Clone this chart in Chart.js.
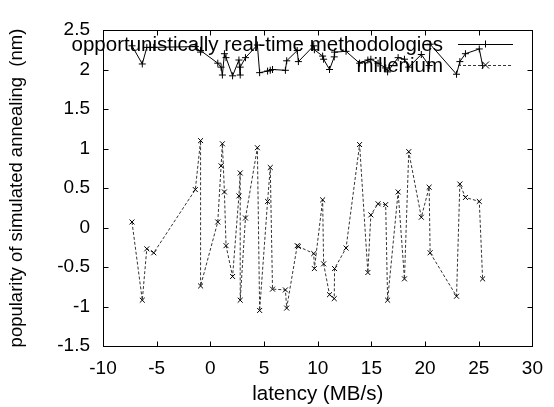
<!DOCTYPE html>
<html lang="en">
<head>
  <meta charset="UTF-8" />
  <title>latency vs popularity</title>
  <script src="https://cdn.jsdelivr.net/npm/chart.js"></script>
  <style>
    body { margin: 0; background: #fff; }
    #wrap { width: 554px; height: 407px; }
  </style>
</head>
<body>
  <div id="wrap"><canvas id="chart" width="554" height="407"></canvas></div>
  <script>
    // latency (MB/s) samples, shared by both series
    const latency = [-7.3, -6.34, -5.92, -5.27, -1.40, -0.91, -0.91, 0.69, 1.0, 1.12, 1.31, 1.46, 2.07, 2.66, 2.78, 2.78, 3.27,
      4.38, 4.59, 5.33, 5.58, 5.79, 6.99, 7.11, 8.09, 8.2, 9.63, 9.69, 10.46, 10.55, 11.1, 11.54, 11.57, 12.64, 13.9,
      14.67, 14.95, 15.62, 16.33, 16.51, 17.49, 18.08, 18.48, 19.65, 20.38, 20.47, 22.93, 23.24, 23.76, 25.05, 25.36];

    const methodologies = [2.30, 2.07, 2.28, 2.28, 2.29, 2.22, 2.24, 2.08, 2.03, 1.93, 2.20, 2.15, 1.92, 2.12, 1.93, 2.03, 2.15,
      2.31, 1.96, 1.98, 1.99, 2.00, 1.99, 2.11, 2.24, 2.10, 2.30, 2.25, 2.17, 2.13, 2.00, 2.16, 2.22, 2.23, 2.08,
      2.12, 2.13, 2.08, 2.02, 1.97, 2.15, 2.13, 2.03, 2.19, 2.05, 2.32, 1.94, 2.10, 2.20, 2.26, 2.05];

    const millenium = [0.07, -0.92, -0.27, -0.32, 0.48, 1.10, -0.74, 0.07, 0.78, 1.06, 0.45, -0.23, -0.62, 0.40, 0.69, -0.92, 0.12,
      1.01, -1.05, 0.33, 0.76, -0.78, -0.79, -1.02, -0.23, -0.24, -0.33, -0.52, 0.35, -0.46, -0.85, -0.90, -0.52, -0.26, 1.05,
      -0.57, 0.16, 0.30, 0.29, -0.92, 0.45, -0.65, 0.96, 0.13, 0.51, -0.32, -0.87, 0.55, 0.38, 0.33, -0.65];

    const xTicks = [-10, -5, 0, 5, 10, 15, 20, 25, 30];
    const yTicks = [-1.5, -1, -0.5, 0, 0.5, 1, 1.5, 2, 2.5];

    const FONT = 'Liberation Sans, Arial, sans-serif';
    Chart.defaults.font.family = FONT;
    Chart.defaults.font.size = 19;
    Chart.defaults.color = '#000';

    const pts = ys => latency.map((x, i) => ({ x, y: ys[i] }));

    // gnuplot style box, inward ticks and legend
    const gnuFrame = {
      id: 'gnuFrame',
      afterDraw(chart) {
        const { ctx, chartArea: a, scales: { x, y } } = chart;
        ctx.save();
        ctx.strokeStyle = '#000';
        ctx.lineWidth = 1;
        ctx.setLineDash([]);
        const seg = (x1, y1, x2, y2) => { ctx.beginPath(); ctx.moveTo(x1, y1); ctx.lineTo(x2, y2); ctx.stroke(); };
        const L = Math.round(a.left) + 0.5, R = Math.round(a.right) + 0.5;
        const T = Math.round(a.top) + 0.5, B = Math.round(a.bottom) + 0.5;
        ctx.strokeRect(L, T, R - L, B - T);
        xTicks.forEach(v => {
          const p = Math.round(x.getPixelForValue(v)) + 0.5;
          seg(p, B, p, B - 5); seg(p, T, p, T + 5);
        });
        yTicks.forEach(v => {
          const p = Math.round(y.getPixelForValue(v)) + 0.5;
          seg(L, p, L + 5, p); seg(R, p, R - 5, p);
        });

        // legend, top right
        ctx.font = '20.5px ' + FONT;
        ctx.textAlign = 'right';
        ctx.textBaseline = 'middle';
        chart.data.datasets.forEach((ds, i) => {
          const ly = 44 + i * 21;
          ctx.fillStyle = '#000';
          ctx.fillText(ds.label, 443, ly + 1);
          ctx.strokeStyle = ds.borderColor;
          ctx.setLineDash(ds.borderDash || []);
          seg(458, ly + 0.5, 513, ly + 0.5);
          ctx.setLineDash([]);
          const cx = 485.5, r = 3.5;
          ctx.strokeStyle = '#000';
          if (ds.pointStyle === 'cross') {
            seg(cx - r, ly + 0.5, cx + r, ly + 0.5); seg(cx, ly - r, cx, ly + r);
          } else {
            seg(cx - r, ly - r, cx + r, ly + r); seg(cx - r, ly + r, cx + r, ly - r);
          }
        });
        ctx.restore();
      }
    };

    new Chart(document.getElementById('chart'), {
      type: 'scatter',
      data: {
        datasets: [
          {
            label: 'opportunistically real-time methodologies',
            data: pts(methodologies),
            showLine: true,
            borderColor: '#000',
            borderWidth: 1,
            pointStyle: 'cross',
            pointRadius: 3.5,
            pointBorderColor: '#000',
            pointBorderWidth: 1
          },
          {
            label: 'millenium',
            data: pts(millenium),
            showLine: true,
            borderColor: '#333',
            borderWidth: 1,
            borderDash: [3, 2],
            pointStyle: 'crossRot',
            pointRadius: 3.5,
            pointBorderColor: '#000',
            pointBorderWidth: 1
          }
        ]
      },
      options: {
        responsive: false,
        animation: false,
        layout: { padding: { left: 0, right: 17, top: 30, bottom: 0 } },
        plugins: { legend: { display: false }, tooltip: { enabled: false } },
        scales: {
          x: {
            type: 'linear',
            min: -10, max: 30,
            afterBuildTicks: s => { s.ticks = xTicks.map(v => ({ value: v })); },
            afterFit: s => { s.height = 61; },
            grid: { display: false, drawTicks: false },
            border: { display: false },
            ticks: { padding: 11, maxRotation: 0, callback: v => String(v) },
            title: { display: true, text: 'latency (MB/s)', font: { size: 20.5 }, padding: { top: 2, bottom: 0 } }
          },
          y: {
            min: -1.5, max: 2.5,
            afterBuildTicks: s => { s.ticks = yTicks.map(v => ({ value: v })); },
            afterFit: s => { s.width = 103; },
            grid: { display: false, drawTicks: false },
            border: { display: false },
            ticks: { padding: 13, callback: v => String(v) },
            title: { display: true, text: 'popularity of simulated annealing  (nm)', font: { size: 18.5 }, padding: { top: 6, bottom: 0 } }
          }
        }
      },
      plugins: [gnuFrame]
    });
  </script>
</body>
</html>
